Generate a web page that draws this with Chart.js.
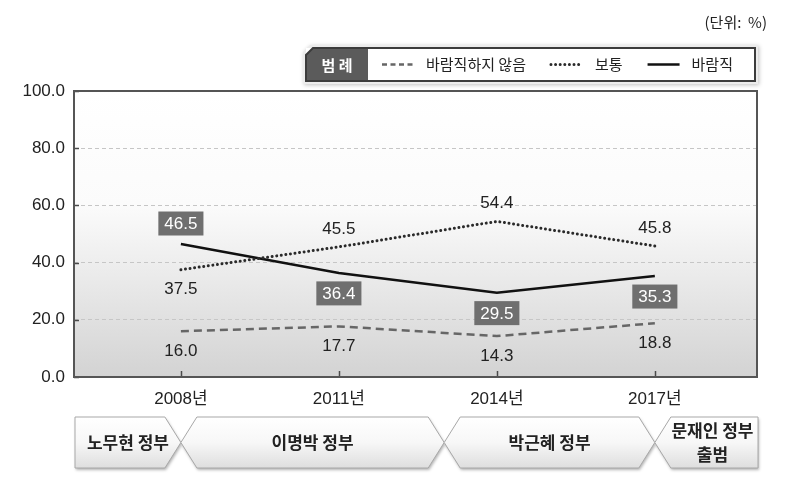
<!DOCTYPE html>
<html><head><meta charset="utf-8">
<script src="https://cdn.jsdelivr.net/npm/chart.js@4"></script>
<style>html,body{margin:0;padding:0;background:#fff}#wrap{width:799px;height:492px;position:relative}</style>
</head><body><div id="wrap"><canvas id="c" width="799" height="492"></canvas></div>
<script>
// ---------- data ----------
const categories = ['2008년', '2011년', '2014년', '2017년'];
const years = [2008, 2011, 2014, 2017];
const notDesirable = [16.0, 17.7, 14.3, 18.8];
const neutral = [37.5, 45.5, 54.4, 45.8];
const desirable = [46.5, 36.4, 29.5, 35.3];
const seriesNames = ['바람직하지 않음', '보통', '바람직'];
const yTicks = [0, 20, 40, 60, 80, 100];
const eras = ['노무현 정부', '이명박 정부', '박근혜 정부', '문재인 정부\n출범'];
const eraChangeYears = [2008, 2013, 2017];
const unitText = '(단위:  %)';
const legendTitle = '범 례';

// label placement (styling, not data)
const labelSides = [[1, 1, 1, 1], [1, -1, -1, -1], [-1, 1, 1, 1]];
const boxedSeries = [false, false, true];

const FONT = "'Liberation Sans', 'Noto Sans CJK KR', sans-serif";
const KFONT = "'Noto Sans CJK KR', 'Liberation Sans', sans-serif";

const toPts = arr => arr.map((v, i) => ({ x: years[i], y: v }));

const deco = {
  id: 'deco',
  beforeDraw(chart) {
    const { ctx, chartArea: a } = chart;
    ctx.save();
    const g = ctx.createLinearGradient(0, a.top, 0, a.bottom);
    g.addColorStop(0, '#ffffff');
    g.addColorStop(0.4, '#fbfbfb');
    g.addColorStop(1, '#d3d3d3');
    ctx.fillStyle = g;
    ctx.fillRect(a.left, a.top, a.right - a.left, a.bottom - a.top);
    ctx.restore();
  },
  beforeDatasetsDraw(chart) {
    const { ctx, chartArea: a, scales } = chart;
    ctx.save();
    ctx.strokeStyle = '#4a4a4a';
    ctx.lineWidth = 1.5;
    scales.x.ticks.forEach(t => {
      const x = Math.round(scales.x.getPixelForValue(t.value)) + 0.5;
      ctx.beginPath(); ctx.moveTo(x, a.bottom); ctx.lineTo(x, a.bottom - 6); ctx.stroke();
    });
    scales.y.ticks.forEach(t => {
      const y = Math.round(scales.y.getPixelForValue(t.value)) + 0.5;
      ctx.beginPath(); ctx.moveTo(a.left, y); ctx.lineTo(a.left + 5, y); ctx.stroke();
    });
    ctx.strokeStyle = '#555';
    ctx.lineWidth = 2;
    ctx.strokeRect(a.left, a.top, a.right - a.left, a.bottom - a.top);
    ctx.restore();
  },
  afterDatasetsDraw(chart) {
    const { ctx } = chart;
    ctx.save();
    ctx.font = '17px ' + FONT;
    ctx.textAlign = 'center';
    ctx.textBaseline = 'middle';
    chart.data.datasets.forEach((ds, di) => {
      const meta = chart.getDatasetMeta(di);
      meta.data.forEach((pt, i) => {
        const v = ds.data[i].y;
        const txt = v.toFixed(1);
        const side = labelSides[di][i];
        const x = pt.x;
        const y = pt.y + side * (boxedSeries[di] ? 20.5 : 19);
        if (boxedSeries[di]) {
          const w = ctx.measureText(txt).width + 12, h = 24;
          ctx.fillStyle = '#6f6f6f';
          ctx.fillRect(x - w / 2, y - h / 2, w, h);
          ctx.fillStyle = '#ffffff';
        } else {
          ctx.fillStyle = '#222';
        }
        ctx.fillText(txt, x, y + 1);
      });
    });
    ctx.restore();
  },
  afterDraw(chart) {
    const { ctx, chartArea: a, scales } = chart;
    ctx.save();
    // unit
    ctx.font = '15px ' + KFONT;
    ctx.fillStyle = '#222';
    ctx.textAlign = 'right';
    ctx.textBaseline = 'middle';
    ctx.fillText(unitText, 767, 22);

    // legend
    const L = 306, T = 48, R = 755, B = 81, cut = 7;
    ctx.save();
    ctx.shadowColor = 'rgba(0,0,0,0.25)';
    ctx.shadowBlur = 4;
    ctx.shadowOffsetX = 1; ctx.shadowOffsetY = 1;
    ctx.fillStyle = '#ececec';
    ctx.beginPath();
    ctx.moveTo(L - 3 + cut, T - 3); ctx.lineTo(R + 3, T - 3); ctx.lineTo(R + 3, B + 3);
    ctx.lineTo(L - 3, B + 3); ctx.lineTo(L - 3, T - 3 + cut); ctx.closePath(); ctx.fill();
    ctx.restore();
    ctx.fillStyle = '#fff';
    ctx.fillRect(L, T, R - L, B - T);
    ctx.fillStyle = '#5b5b5b';
    ctx.beginPath();
    ctx.moveTo(L + cut, T); ctx.lineTo(368, T); ctx.lineTo(368, B); ctx.lineTo(L, B); ctx.lineTo(L, T + cut); ctx.closePath(); ctx.fill();
    ctx.strokeStyle = '#3c3c3c';
    ctx.lineWidth = 2;
    ctx.beginPath();
    ctx.moveTo(L + cut, T); ctx.lineTo(R, T); ctx.lineTo(R, B); ctx.lineTo(L, B); ctx.lineTo(L, T + cut); ctx.closePath(); ctx.stroke();
    ctx.font = 'bold 15px ' + KFONT;
    ctx.fillStyle = '#fff';
    ctx.textAlign = 'center';
    ctx.fillText(legendTitle, 337, 65);
    let lx = 382;
    const ly = 64.5;
    ctx.font = '15px ' + KFONT;
    ctx.textAlign = 'left';
    chart.data.datasets.forEach(ds => {
      ctx.save();
      ctx.strokeStyle = ds.borderColor;
      ctx.lineWidth = ds.borderWidth;
      ctx.lineCap = ds.borderCapStyle || 'butt';
      ctx.setLineDash(ds.legendDash || ds.borderDash || []);
      ctx.beginPath(); ctx.moveTo(lx, ly); ctx.lineTo(lx + 32, ly); ctx.stroke();
      ctx.restore();
      lx += 44;
      ctx.fillStyle = '#222';
      ctx.fillText(ds.label, lx, ly);
      lx += ctx.measureText(ds.label).width + 25;
    });

    // era ribbon
    const top = 417, bot = 468, mid = (top + bot) / 2, hw = 16;
    const left = a.left + 1, right = a.right + 1;
    const bx = eraChangeYears.map(y => scales.x.getPixelForValue(y));
    const last = eras.length - 1;
    eras.forEach((name, i) => {
      ctx.save();
      const g = ctx.createLinearGradient(0, top, 0, bot);
      g.addColorStop(0, '#ffffff');
      g.addColorStop(0.5, '#f7f7f7');
      g.addColorStop(1, '#dedede');
      ctx.beginPath();
      if (i === 0) ctx.moveTo(left, top); else ctx.moveTo(bx[i - 1] + hw, top);
      if (i === last) { ctx.lineTo(right, top); ctx.lineTo(right, bot); }
      else { ctx.lineTo(bx[i] - hw, top); ctx.lineTo(bx[i], mid); ctx.lineTo(bx[i] - hw, bot); }
      if (i === 0) ctx.lineTo(left, bot);
      else { ctx.lineTo(bx[i - 1] + hw, bot); ctx.lineTo(bx[i - 1], mid); }
      ctx.closePath();
      ctx.shadowColor = 'rgba(0,0,0,0.3)';
      ctx.shadowBlur = 3;
      ctx.shadowOffsetX = 1; ctx.shadowOffsetY = 2;
      ctx.fillStyle = g;
      ctx.fill();
      ctx.shadowColor = 'transparent';
      ctx.strokeStyle = '#a8a8a8';
      ctx.lineWidth = 1;
      ctx.stroke();
      ctx.restore();
      const Lx = i === 0 ? left : bx[i - 1];
      const Rx = i === last ? right : bx[i];
      const cx = (Lx + Rx) / 2 + (i === last ? 6 : 0);
      const lines = name.split('\n');
      ctx.font = 'bold 17px ' + KFONT;
      ctx.fillStyle = '#222';
      ctx.textAlign = 'center';
      ctx.textBaseline = 'middle';
      lines.forEach((ln, k) => {
        const yy = mid + (k - (lines.length - 1) / 2) * 24;
        ctx.fillText(ln, cx, yy);
      });
    });
    ctx.restore();
  }
};

new Chart(document.getElementById('c'), {
  type: 'line',
  data: {
    datasets: [
      { label: seriesNames[0], data: toPts(notDesirable), borderColor: '#666666', borderWidth: 2.5, borderDash: [8, 5], legendDash: [5, 3.5], borderCapStyle: 'butt' },
      { label: seriesNames[1], data: toPts(neutral), borderColor: '#2a2a2a', borderWidth: 3, borderDash: [0.01, 4.6], borderCapStyle: 'round' },
      { label: seriesNames[2], data: toPts(desirable), borderColor: '#111111', borderWidth: 2.5, borderCapStyle: 'butt' }
    ]
  },
  options: {
    responsive: false,
    animation: false,
    devicePixelRatio: 1,
    layout: { padding: { top: 91, right: 42, left: 0, bottom: 0 } },
    elements: { point: { radius: 0 }, line: { tension: 0 } },
    plugins: { legend: { display: false }, tooltip: { enabled: false } },
    scales: {
      x: {
        type: 'linear',
        min: 2005.97,
        max: 2018.94,
        grid: { display: false, drawTicks: false },
        border: { display: false },
        afterBuildTicks: s => { s.ticks = years.map(v => ({ value: v })); },
        afterFit: s => { s.height = 115; },
        ticks: {
          autoSkip: false,
          maxRotation: 0,
          padding: 12,
          color: '#222',
          font: { family: FONT, size: 17 },
          callback: v => categories[years.indexOf(v)]
        }
      },
      y: {
        min: 0,
        max: 100,
        afterBuildTicks: s => { s.ticks = yTicks.map(v => ({ value: v })); },
        afterFit: s => { s.width = 74; },
        grid: { color: '#c6c6c6', lineWidth: 1, drawTicks: false },
        border: { display: false, dash: [4, 3] },
        ticks: {
          padding: 9,
          color: '#222',
          font: { family: FONT, size: 17 },
          callback: v => Number(v).toFixed(1)
        }
      }
    }
  },
  plugins: [deco]
});
</script>
</body></html>
